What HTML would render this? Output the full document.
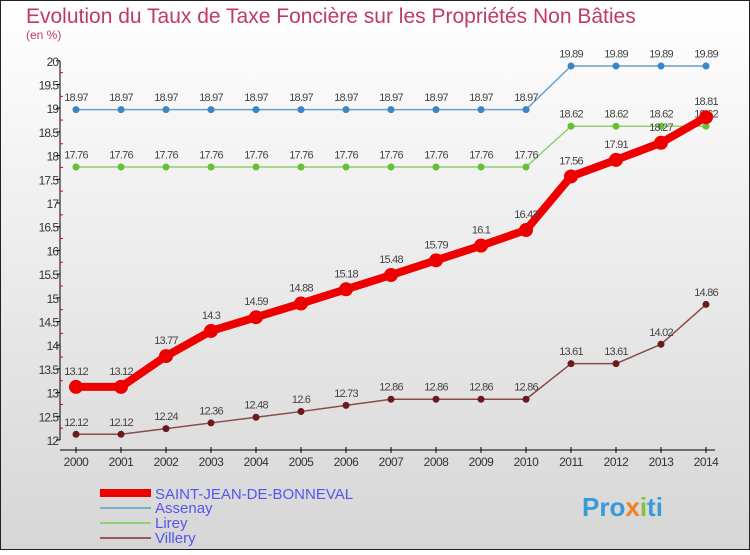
<!DOCTYPE html>
<html><head><meta charset="utf-8"><style>
html,body{margin:0;padding:0}
body{width:750px;height:550px;overflow:hidden;font-family:"Liberation Sans",sans-serif}
</style></head><body>
<svg id="chart" width="750" height="550" xmlns="http://www.w3.org/2000/svg">
<defs><linearGradient id="bg" x1="0" y1="0" x2="0" y2="1"><stop offset="0" stop-color="#ffffff"/><stop offset="1" stop-color="#d6d6d6"/></linearGradient></defs>
<rect x="0.5" y="0.5" width="749" height="549" fill="url(#bg)" stroke="#222"/>
<text x="26" y="23" font-size="21" fill="#c0396a">Evolution du Taux de Taxe Foncière sur les Propriétés Non Bâties</text>
<text x="26" y="39" font-size="12" fill="#c0396a">(en %)</text>
<g id="axes"></g><g id="series"></g>
<g>
<line x1="100" y1="493" x2="151" y2="493" stroke="#ee0000" stroke-width="8"/>
<text x="155" y="499" font-size="15" fill="#5555ee">SAINT-JEAN-DE-BONNEVAL</text>
<line x1="100" y1="508" x2="151" y2="508" stroke="#7aaed0" stroke-width="2"/>
<text x="155" y="513" font-size="15" fill="#5555ee">Assenay</text>
<line x1="100" y1="523" x2="151" y2="523" stroke="#90d070" stroke-width="2"/>
<text x="155" y="528" font-size="15" fill="#5555ee">Lirey</text>
<line x1="100" y1="538" x2="151" y2="538" stroke="#9a5a5a" stroke-width="2"/>
<text x="155" y="543" font-size="15" fill="#5555ee">Villery</text>
</g>
<text x="582" y="516" font-size="26" font-weight="bold" fill="#3a9ad8">Pro<tspan fill="#f08020">x</tspan><tspan fill="#8ac040">i</tspan>ti</text>
</svg>
<script>
const years=[2000,2001,2002,2003,2004,2005,2006,2007,2008,2009,2010,2011,2012,2013,2014];
const yTicks=[12,12.5,13,13.5,14,14.5,15,15.5,16,16.5,17,17.5,18,18.5,19,19.5,20];
const saintJean=[13.12,13.12,13.77,14.3,14.59,14.88,15.18,15.48,15.79,16.1,16.43,17.56,17.91,18.27,18.81];
const assenay=[18.97,18.97,18.97,18.97,18.97,18.97,18.97,18.97,18.97,18.97,18.97,19.89,19.89,19.89,19.89];
const lirey=[17.76,17.76,17.76,17.76,17.76,17.76,17.76,17.76,17.76,17.76,17.76,18.62,18.62,18.62,18.62];
const villery=[12.12,12.12,12.24,12.36,12.48,12.6,12.73,12.86,12.86,12.86,12.86,13.61,13.61,14.02,14.86];
const NS="http://www.w3.org/2000/svg";
const X=i=>76+i*45, Y=v=>440-(v-12)*47.4;
function mk(tag,attrs,parent,text){const e=document.createElementNS(NS,tag);for(const k in attrs)e.setAttribute(k,attrs[k]);if(text!==undefined)e.textContent=text;parent.appendChild(e);return e;}
const axes=document.getElementById('axes'), ser=document.getElementById('series');
let yl=mk('line',{x1:60,y1:Y(20),x2:60,y2:Y(12),stroke:'#000'},axes);


yTicks.forEach(t=>{
  const tk=mk('line',{x1:56,y1:Y(t),x2:60,y2:Y(t),stroke:'#000'},axes);
  
  
  const lb=mk('text',{x:58,y:Y(t)+5,'text-anchor':'end','font-size':12,fill:'#333','letter-spacing':'-1'},axes,String(t));
  
  
  if(t<20){
    const mt=mk('line',{x1:60,y1:Y(t+0.25),x2:63,y2:Y(t+0.25),stroke:'#e00'},axes);
    
    
  }
});
let xl=mk('line',{x1:60,y1:450,x2:715,y2:450,stroke:'#000'},axes);


years.forEach((yr,i)=>{
  const tk=mk('line',{x1:X(i),y1:447,x2:X(i),y2:453,stroke:'#000'},axes);
  
  
  const lb=mk('text',{x:X(i),y:466,'text-anchor':'middle','font-size':12,fill:'#333','letter-spacing':'-0.5'},axes,String(yr));
  
  
});
function draw(vals,color,dot,w,r,name){
  const g=mk('g',{},ser);
  
  
  const p=mk('polyline',{points:vals.map((v,i)=>X(i)+','+Y(v)).join(' '),fill:'none',stroke:color,'stroke-width':w,'stroke-linejoin':'round'},g);
  
  
  vals.forEach((v,i)=>{
    const c=mk('circle',{cx:X(i),cy:Y(v),r:r,fill:dot},g);
    
    
    const t=mk('text',{x:X(i),y:Y(v)-(r+5),'text-anchor':'middle','font-size':11,fill:'#444','letter-spacing':'-0.8'},g,String(v));
    
    
  });
}
draw(villery,'#8a4a4a','#6a1a1a',1.5,3.5,'villery');
draw(lirey,'#90d070','#66c033',1.5,3.5,'lirey');
draw(assenay,'#6a9ec8','#3a86c4',1.5,3.5,'assenay');
draw(saintJean,'#ee0000','#ee0000',8,7,'saint-jean');
</script>
</body></html>
